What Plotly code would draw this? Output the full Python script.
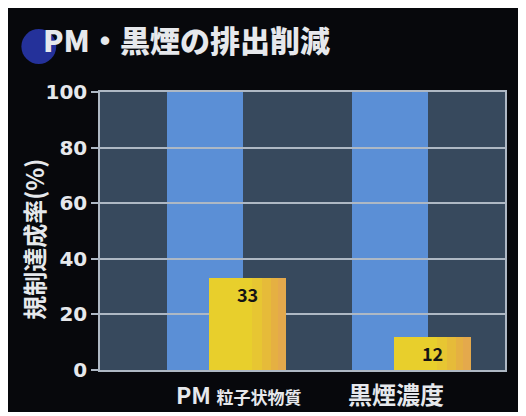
import plotly.graph_objects as go

# ---- data ----
categories = ["PM", "黒煙濃度"]
category_labels = ["<span style='font-size:23px'>PM</span> <span style='font-size:17px'>粒子状物質</span>",
                   "黒煙濃度"]
regulation = [100, 100]       # 規制値 (100%)
achievement = [33, 12]        # 規制達成率
y_ticks = [0, 20, 40, 60, 80, 100]
title_text = "PM・黒煙の排出削減"
y_title = "規制達成率(%)"

# ---- style ----
OFF = 8                      # page margin of the html body
W, H = 510, 404
L, R, T, B = 92, 11, 84, 42
pw, ph = W - L - R, H - T - B

def px_x(px):                # page pixel -> paper coord
    return (px - OFF - L) / pw

def px_y(py):
    return (H - B - (py - OFF)) / ph

PANEL = "#07080c"
DARK = "#37495d"
BLUE = "#5b8fd6"
GRID = "#aeb8c4"
YELLOW = "#e8cf2c"
LIGHT = "#e6e8ec"
JP = "Noto Sans CJK JP"

bar_w = 0.414
blue_off = -0.325
yel_off = -0.094
xrange = [-0.685, 1.503]

fig = go.Figure()

# regulation (blue) bars - subplot 1 (below gridlines of subplot 2)
fig.add_trace(go.Bar(x=categories, y=regulation, width=bar_w, offset=blue_off,
                     marker=dict(color=BLUE, line=dict(width=0)),
                     xaxis="x", yaxis="y", hoverinfo="skip", showlegend=False))

# achievement (yellow) bars with a gradient toward orange on the right
fig.add_trace(go.Bar(x=categories, y=achievement, width=bar_w, offset=yel_off,
                     marker=dict(color=YELLOW, line=dict(width=0)),
                     xaxis="x2", yaxis="y2", showlegend=False))
strips = [(0.55, "#e7c632"), (0.68, "#e6bb39"), (0.80, "#e5b042"), (0.90, "#e4a94c")]
for f, c in strips:
    fig.add_trace(go.Bar(x=categories, y=achievement, width=bar_w * (1 - f),
                         offset=yel_off + bar_w * f,
                         marker=dict(color=c, line=dict(width=0)),
                         xaxis="x2", yaxis="y2", hoverinfo="skip", showlegend=False))
# value labels
fig.add_trace(go.Bar(x=categories, y=achievement, width=bar_w, offset=yel_off,
                     marker=dict(color="rgba(0,0,0,0)", line=dict(width=0)),
                     text=[str(v) for v in achievement], textposition="inside",
                     insidetextanchor="end", constraintext="none",
                     insidetextfont=dict(family=JP, size=18, color="#141414", weight="bold"),
                     xaxis="x2", yaxis="y2", hoverinfo="skip", showlegend=False))

shapes = [
    dict(type="rect", xref="paper", yref="paper", layer="below",
         x0=0, x1=1, y0=0, y1=1, fillcolor=DARK, line=dict(width=0)),
    dict(type="circle", xref="paper", yref="paper", layer="below",
         x0=px_x(21), x1=px_x(56), y0=px_y(64), y1=px_y(29),
         fillcolor="#24319a", line=dict(width=0)),
]

annotations = [
    dict(text=y_title, xref="paper", yref="paper", x=px_x(32.5), y=px_y(239),
         textangle=-90, showarrow=False, xanchor="center", yanchor="middle",
         font=dict(family=JP, size=24, color=LIGHT, weight="bold")),
]
label_shift = [12, -16]
for cat, lab, s in zip(categories, category_labels, label_shift):
    annotations.append(dict(text=lab, x=cat, y=0, xref="x", yref="y", xshift=s, yshift=-23,
                            showarrow=False, xanchor="center", yanchor="middle",
                            font=dict(family=JP, size=24, color=LIGHT, weight="bold")))

fig.update_layout(
    width=W, height=H,
    margin=dict(l=L, r=R, t=T, b=B),
    paper_bgcolor=PANEL,
    plot_bgcolor="rgba(0,0,0,0)",
    barmode="overlay",
    bargap=0,
    showlegend=False,
    title=dict(text=title_text, x=(43 - OFF) / W, xanchor="left", xref="container",
               y=1 - (41 - OFF) / H, yanchor="middle", yref="container",
               font=dict(family=JP, size=30, color=LIGHT, weight=900)),
    xaxis=dict(domain=[0, 1], range=xrange, type="category", categoryorder="array",
               categoryarray=categories, showticklabels=False, ticks="",
               showgrid=False, zeroline=False, showline=True, mirror=True,
               linecolor=GRID, linewidth=1.5),
    yaxis=dict(domain=[0, 1], range=[0, 100], tickvals=y_ticks, ticks="outside",
               ticklen=7, tickwidth=1.5, tickcolor=GRID, showgrid=False, zeroline=False,
               showline=True, mirror=True, linecolor=GRID, linewidth=1.5,
               tickfont=dict(family="DejaVu Sans", size=20, color=LIGHT, weight="bold")),
    xaxis2=dict(domain=[0, 1], anchor="y2", range=xrange, type="category",
                categoryorder="array", categoryarray=categories, showticklabels=False,
                ticks="", showgrid=False, zeroline=False, showline=False),
    yaxis2=dict(domain=[0, 1], anchor="x2", range=[0, 100], tickvals=y_ticks,
                showticklabels=False, ticks="", showgrid=True, gridcolor=GRID,
                gridwidth=1.5, zeroline=False, showline=False),
    shapes=shapes,
    annotations=annotations,
)

fig.write_html("out.html")
